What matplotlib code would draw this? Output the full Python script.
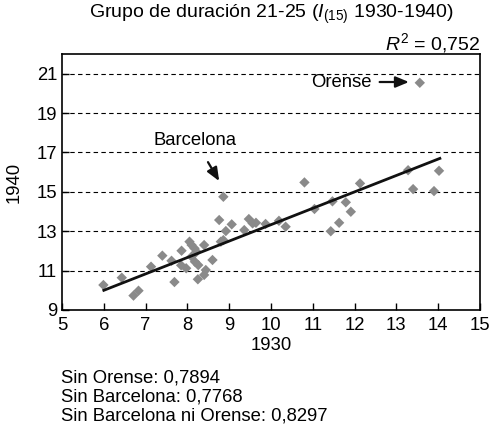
import matplotlib.pyplot as plt

plt.rcParams['font.family'] = ['Liberation Sans', 'DejaVu Sans']
plt.rcParams['mathtext.fontset'] = 'custom'
plt.rcParams['mathtext.rm'] = 'Liberation Sans'
plt.rcParams['mathtext.it'] = 'Liberation Sans:italic'

x1930 = [5.99, 6.43, 6.71, 6.83, 7.13, 7.40, 7.62, 7.69, 7.86, 7.85, 7.97, 8.05,
         8.10, 8.17, 8.22, 8.10, 8.18, 8.26, 8.25, 8.40, 8.44, 8.40, 8.60, 8.76,
         8.86, 8.80, 8.86, 8.92, 9.06, 9.36, 9.47, 9.56, 9.64, 9.87, 10.19, 10.35,
         10.80, 11.04, 11.47, 11.43, 11.63, 11.79, 11.91, 12.13, 13.28, 13.40,
         13.90, 14.02, 13.56]
y1940 = [10.27, 10.64, 9.73, 9.98, 11.20, 11.76, 11.50, 10.42, 12.01, 11.27, 11.12, 12.47,
         12.30, 12.13, 11.96, 11.71, 11.45, 11.28, 10.56, 12.30, 11.03, 10.78, 11.54, 13.57,
         14.75, 12.47, 12.55, 13.01, 13.35, 13.06, 13.62, 13.40, 13.43, 13.37, 13.53, 13.23,
         15.48, 14.13, 14.52, 13.00, 13.43, 14.47, 13.99, 15.43, 16.10, 15.14,
         15.04, 16.07, 20.54]

fit_x = [6.0, 14.04]
fit_y = [10.0, 16.70]

notes = ["Sin Orense: 0,7894", "Sin Barcelona: 0,7768", "Sin Barcelona ni Orense: 0,8297"]

fs = 13.3

fig = plt.figure(figsize=(4.93, 4.29), dpi=100)
ax = fig.add_axes([0.1258, 0.2774, 0.8478, 0.5966])

for yv in range(11, 22, 2):
    ax.axhline(yv, color='black', linestyle=(0, (4, 3)), linewidth=0.8, zorder=1)

ax.scatter(x1930, y1940, marker='D', s=28, color='#8a8a8a', edgecolors='none', zorder=2)
ax.plot(fit_x, fit_y, color='#111111', linewidth=2, zorder=3)

ax.set_xlim(5, 15)
ax.set_ylim(9, 22)
ax.set_xticks(range(5, 16))
ax.set_yticks(range(9, 22, 2))
ax.tick_params(direction='in', length=5, labelsize=fs, width=1)
ax.tick_params(axis='x', pad=5)
for s in ax.spines.values():
    s.set_linewidth(1.2)

ax.set_xlabel("1930", fontsize=fs, labelpad=2)
ax.set_ylabel("1940", fontsize=fs, labelpad=10)

ax.annotate("Barcelona", xy=(8.76, 15.55), xytext=(8.18, 17.63), fontsize=fs,
            ha='center', va='center',
            arrowprops=dict(arrowstyle='-|>,head_length=0.6,head_width=0.25', color='#111111',
                            lw=1.6, shrinkA=9, shrinkB=0))
ax.annotate("Orense", xy=(13.30, 20.58), xytext=(12.40, 20.58), fontsize=fs,
            ha='right', va='center',
            arrowprops=dict(arrowstyle='-|>,head_length=0.6,head_width=0.25', color='#111111',
                            lw=1.6, shrinkA=4, shrinkB=0))

fig.text(0.551, 0.966, r"Grupo de duración 21-25 ($\mathit{I}_{(15)}$ 1930-1940)",
         ha='center', va='center', fontsize=14)
fig.text(0.974, 0.899, r"$\mathit{R}^2$ = 0,752", ha='right', va='center', fontsize=14)

for i, t in enumerate(notes):
    fig.text(0.124, 0.119 - i * 0.0443, t, ha='left', va='center', fontsize=fs)

fig.savefig("out.png", dpi=100)
